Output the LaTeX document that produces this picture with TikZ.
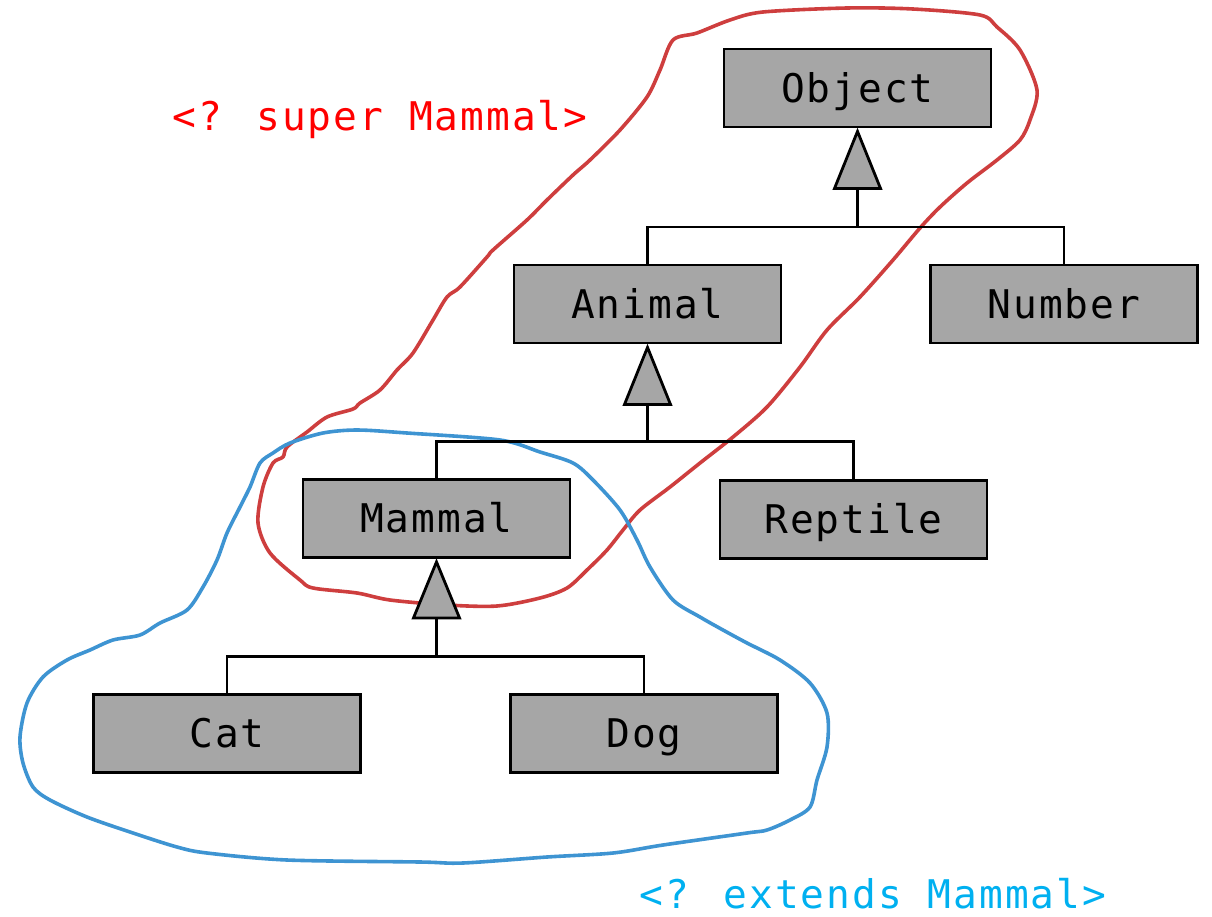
\documentclass[tikz,border=0pt]{standalone}
\usepackage{fontspec}
\newfontfamily\dmono[LetterSpace=5]{DejaVu Sans Mono}
\definecolor{boxgray}{RGB}{166,166,166}
\definecolor{loopred}{RGB}{206,62,62}
\definecolor{loopblue}{RGB}{62,148,210}
\definecolor{txtred}{RGB}{255,0,0}
\definecolor{txtcyan}{RGB}{0,176,240}
\begin{document}
\begin{tikzpicture}[x=1pt,y=-1pt,
  cls/.style={draw=black,line width=2.8pt,fill=boxgray,minimum width=267pt,minimum height=78pt,
    inner sep=0pt,text height=28pt,text depth=0pt,font=\dmono\fontsize{39.5}{39.5}\selectfont},
  lbl/.style={inner sep=0pt,text height=28pt,text depth=0pt,font=\dmono\fontsize{39.5}{39.5}\selectfont},
  conn/.style={draw=black,line width=2.6pt},
  tri/.style={draw=black,line width=2.8pt,fill=boxgray,line join=miter},
  loop/.style={line width=3.6pt,line join=round,line cap=round}]
\useasboundingbox (0,0) rectangle (1212,916);
% freehand loops
\draw[loop,draw=loopred] plot[smooth cycle,tension=0.5] coordinates {
(673,40) (697,33) (730,20) (763,12) (847,8) (913,9) (980,15) (997,27) (1020,50) (1037,90)
(1030,120) (1020,140) (997,160) (967,183) (940,207) (920,228) (893,260) (860,297) (827,330)
(800,367) (767,407) (733,437) (700,463) (670,487) (640,510) (623,530) (607,550) (587,570)
(567,588) (540,598) (497,606) (447,605) (390,600) (357,593) (313,588) (300,580) (270,553)
(258,523) (263,487) (273,463) (283,457) (287,447) (307,432) (327,417) (353,409) (360,403)
(380,390) (397,370) (413,353) (433,320) (447,297) (460,287) (487,257) (493,250) (527,220)
(547,200) (573,175) (590,160) (620,130) (647,97) (660,70)};
\draw[loop,draw=loopblue] plot[smooth cycle,tension=0.5] coordinates {
(260,463) (273,453) (290,443) (323,433) (357,430) (407,433) (500,440) (540,452) (573,463)
(593,480) (620,510) (637,540) (650,567) (673,600) (700,617) (723,630) (747,643) (780,660)
(810,683) (827,713) (827,747) (817,780) (810,807) (790,820) (767,830) (747,833) (663,845)
(613,853) (547,857) (463,863) (420,862) (287,860) (207,853) (177,847) (133,833) (87,817)
(50,800) (33,787) (23,763) (20,737) (27,703) (43,677) (67,660) (90,650) (113,640) (140,635)
(160,623) (187,610) (203,587) (217,560) (227,533) (240,507) (250,487)};
% classes
\node[cls] (object) at (857.5,88) {Object};
\node[cls] (animal) at (647.5,304) {Animal};
\node[cls] (number) at (1064,304) {Number};
\node[cls] (mammal) at (436.5,518.5) {Mammal};
\node[cls] (reptile) at (853.5,519.5) {Reptile};
\node[cls] (cat) at (227,733.5) {Cat};
\node[cls] (dog) at (644,733.5) {Dog};
% junctions on the bars
\coordinate (j1) at (857.5,227);
\coordinate (j2) at (647.5,441.5);
\coordinate (j3) at (436.5,656.5);
% generalisation triangles
\coordinate (t1) at (857.5,188);
\coordinate (t2) at (647.5,403);
\coordinate (t3) at (436.5,617);
\draw[conn] (animal.north) |- (j1) -| (number.north);
\draw[conn] (j1) -- (t1);
\draw[conn] (mammal.north) |- (j2) -| (reptile.north);
\draw[conn] (j2) -- (t2);
\draw[conn] (cat.north) |- (j3) -| (dog.north);
\draw[conn] (j3) -- (t3);
\draw[tri] ([yshift=-3pt]object.south) -- ++(23,57) -- ++(-46,0) -- cycle;
\draw[tri] ([yshift=-3pt]animal.south) -- ++(23,57) -- ++(-46,0) -- cycle;
\draw[tri] ([yshift=-3pt]mammal.south) -- ++(23,56) -- ++(-46,0) -- cycle;
% labels
\node[lbl,text=txtred] (super) at (380,116) {<? super Mammal>};
\node[lbl,text=txtcyan] (extends) at (873,894) {<? extends Mammal>};
\end{tikzpicture}
\end{document}
